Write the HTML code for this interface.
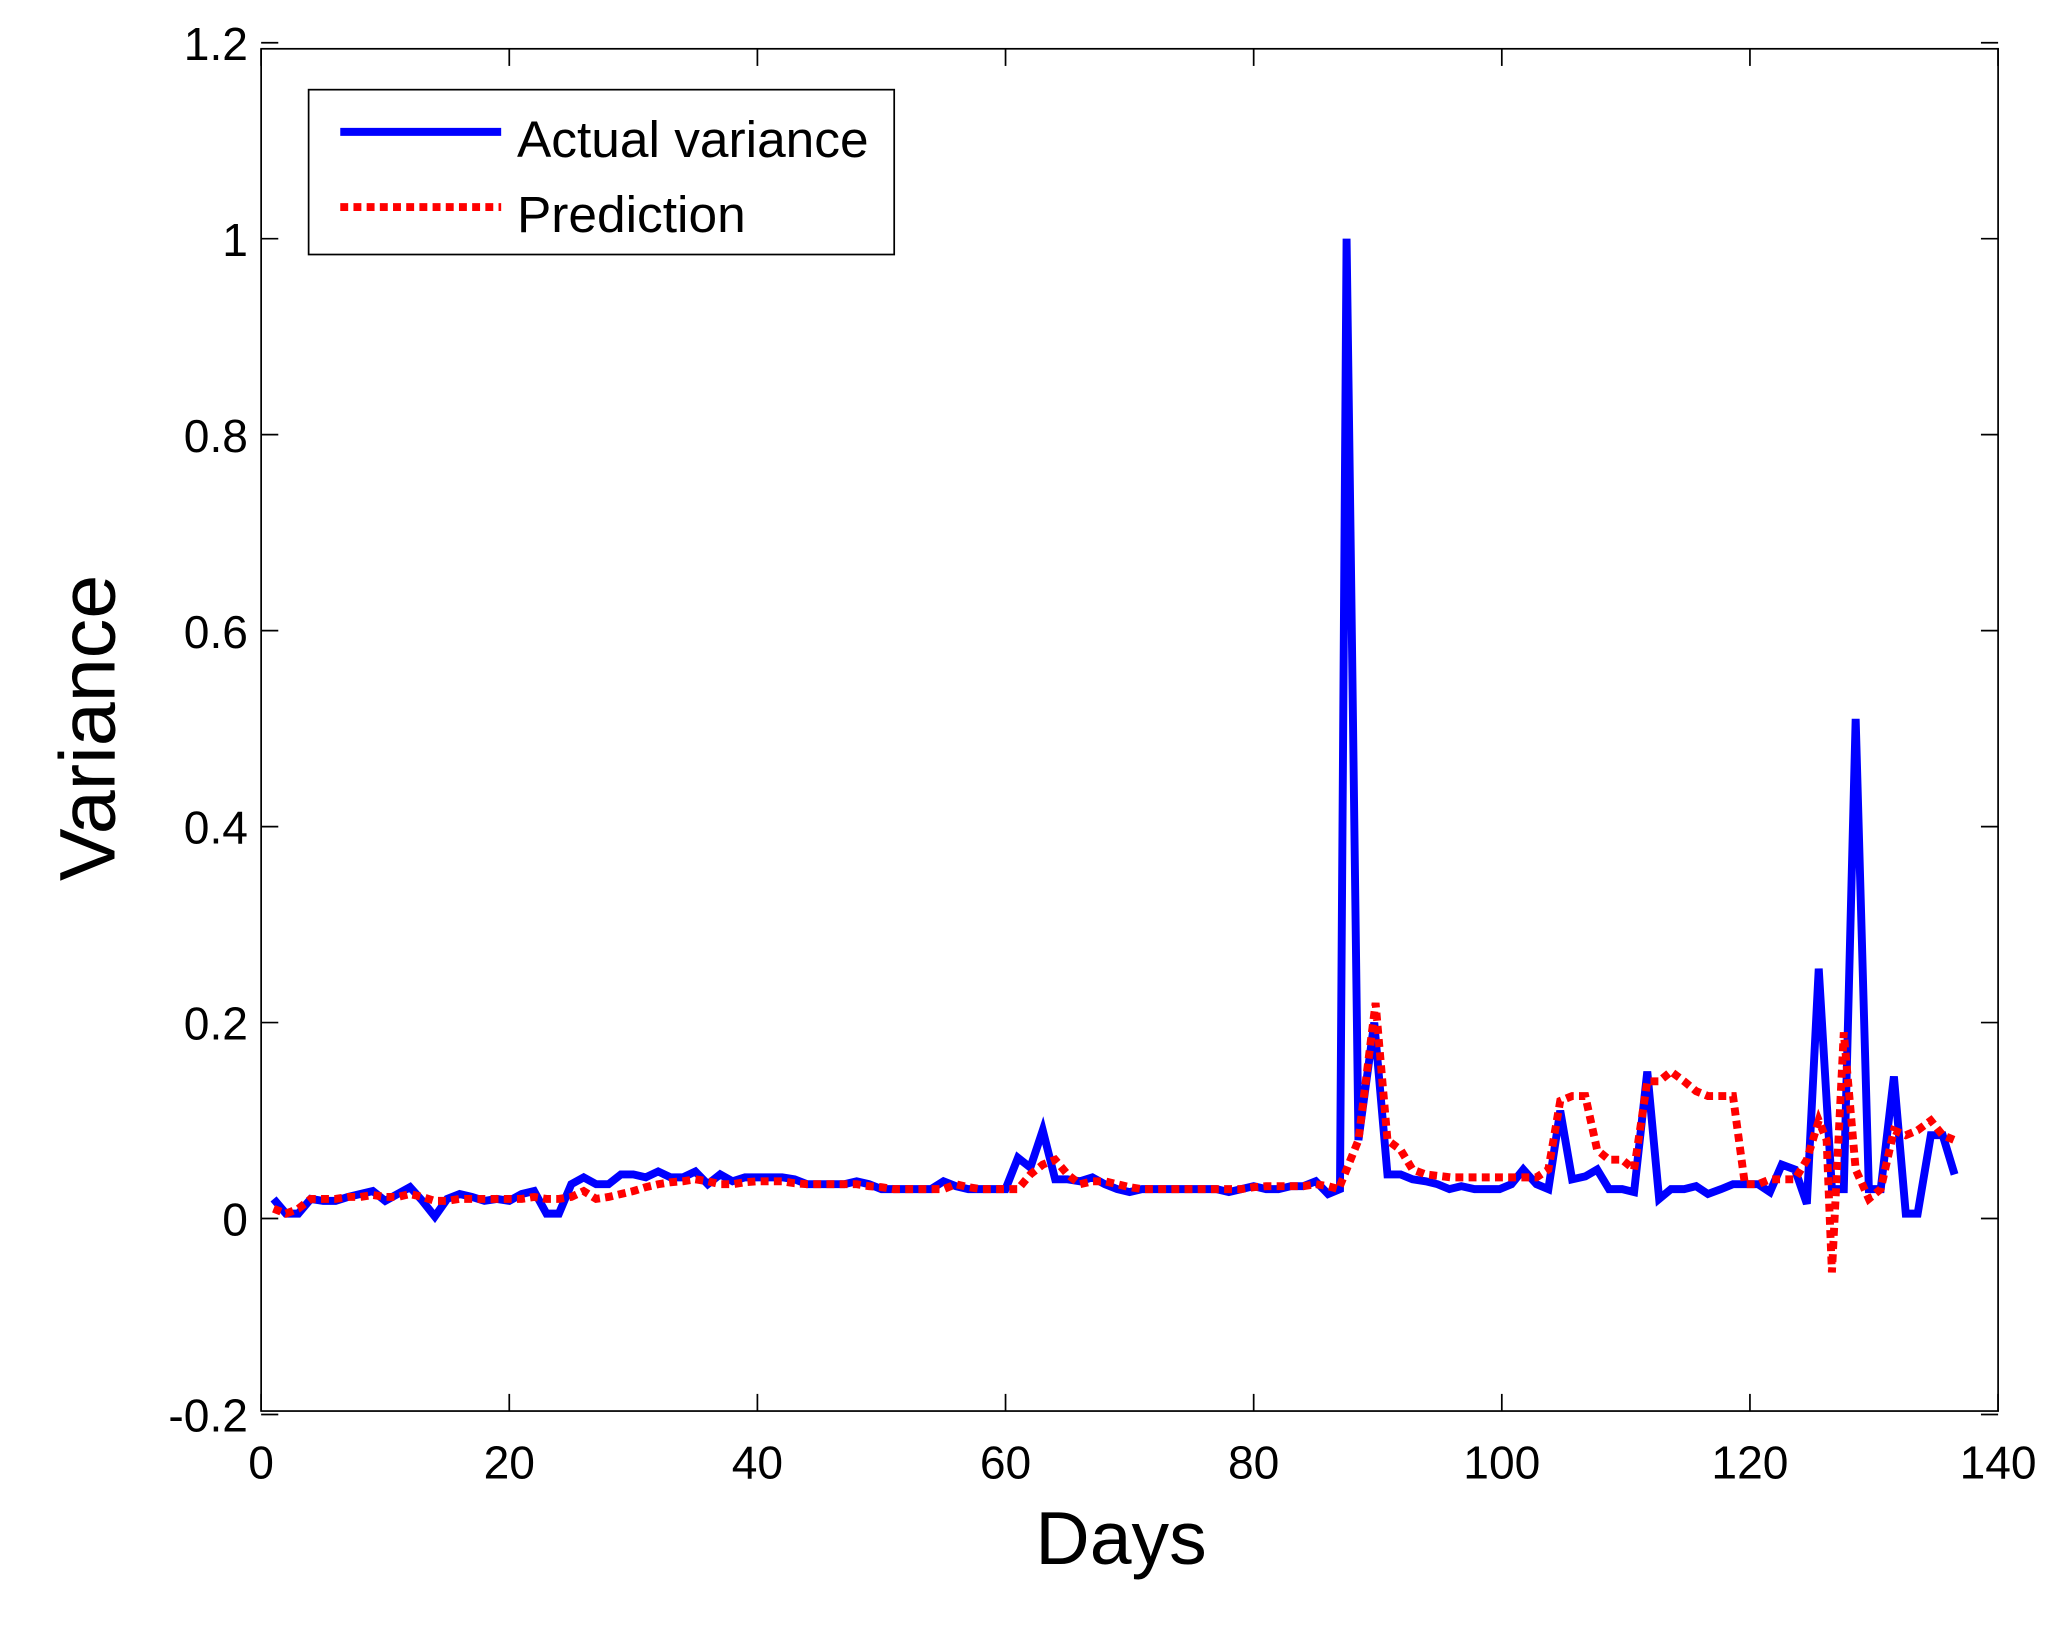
<!DOCTYPE html>
<html><head><meta charset="utf-8"><style>
html,body{margin:0;padding:0;background:#fff;}
svg{display:block;}
text{font-family:"Liberation Sans",Arial,sans-serif;fill:#000;}
</style></head><body>
<svg id="s" width="2068" height="1626" viewBox="0 0 1568 1233" preserveAspectRatio="none" xmlns="http://www.w3.org/2000/svg">
<rect x="0" y="0" width="1568" height="1233" fill="#fff"/>
<g id="ticks" stroke="#000" stroke-width="1.3"></g>
<rect x="198" y="37" width="1317" height="1033" fill="none" stroke="#000" stroke-width="1.3"/>
<g id="lbl" font-size="35"></g>
<text x="850" y="1186" font-size="57" text-anchor="middle">Days</text>
<text transform="translate(87,552) rotate(-90)" font-size="60" text-anchor="middle">Variance</text>
<polyline id="blue" fill="none" stroke="#0000ff" stroke-width="6" stroke-linejoin="miter"/>
<polyline id="red" fill="none" stroke="#ff0000" stroke-width="6" stroke-dasharray="6,4"/>
<rect x="234" y="68" width="444" height="125" fill="#fff" stroke="#000" stroke-width="1.3"/>
<line x1="258" y1="100" x2="380" y2="100" stroke="#0000ff" stroke-width="6"/>
<line x1="258" y1="157" x2="380" y2="157" stroke="#ff0000" stroke-width="6" stroke-dasharray="6,4"/>
<text x="392" y="119" font-size="39">Actual variance</text>
<text x="392" y="176" font-size="39">Prediction</text>
</svg>
<script>
var X=function(d){return 198+d*9.407;},Y=function(v){return 924-v*743;};
var NS="http://www.w3.org/2000/svg";
var tk=document.getElementById('ticks'),lb=document.getElementById('lbl');
function ln(a,b,c,d){var l=document.createElementNS(NS,'line');l.setAttribute('x1',a);l.setAttribute('y1',b);l.setAttribute('x2',c);l.setAttribute('y2',d);tk.appendChild(l);}
function tx(x,y,t,a){var e=document.createElementNS(NS,'text');e.setAttribute('x',x);e.setAttribute('y',y);e.setAttribute('text-anchor',a);e.textContent=t;lb.appendChild(e);}
for(var d=0;d<=140;d+=20){var x=X(d);ln(x,1070,x,1057);ln(x,37,x,50);tx(x,1121,String(d),'middle');}
var yl=['-0.2','0','0.2','0.4','0.6','0.8','1','1.2'];
for(var i=0;i<8;i++){var v=-0.2+i*0.2,y=Y(v);ln(198,y,211,y);ln(1515,y,1502,y);tx(188,y+13,yl[i],'end');}
var bEarly=[0.02,0.005,0.005,0.02,0.018,0.018,0.022,0.025,0.028,0.018,0.025,0.032,0.018,0.002,0.02,0.025,0.022,0.018,0.02,0.018,0.025,0.028,0.005,0.005,0.035,0.042,0.035,0.035,0.045,0.045,0.042,0.048,0.042,0.042,0.048,0.035,0.045,0.038,0.042,0.042,0.042,0.042,0.04,0.035,0.035,0.035,0.035,0.038,0.035,0.03,0.03,0.03,0.03,0.03,0.038,0.033,0.03,0.03,0.03,0.03,0.062,0.052,0.09,0.04,0.04,0.038,0.042,0.035,0.03,0.027,0.03,0.03,0.03,0.03,0.03,0.03,0.03,0.027,0.03,0.033,0.03,0.03,0.033,0.033,0.038,0.025];
var bp=[];for(var i=0;i<bEarly.length;i++)bp.push(X(i+1)+','+Y(bEarly[i]));
var bLate=[[1016,0.03],[1021,1.0],[1024,0.7],[1030,0.08],[1042,0.2],[1052,0.045],[1062,0.045],[1071,0.04],[1081,0.038],[1090,0.035],[1099,0.03],[1108,0.033],[1118,0.03],[1127,0.03],[1137,0.03],[1146,0.035],[1155,0.05],[1165,0.035],[1174,0.03],[1183,0.11],[1192,0.04],[1202,0.043],[1211,0.05],[1220,0.03],[1230,0.03],[1239,0.027],[1249,0.15],[1258,0.02],[1267,0.03],[1277,0.03],[1286,0.033],[1295,0.025],[1305,0.03],[1314,0.035],[1323,0.035],[1333,0.035],[1342,0.027],[1351,0.055],[1361,0.05],[1370,0.015],[1379,0.255],[1389,0.03],[1398,0.03],[1407,0.51],[1417,0.03],[1426,0.03],[1436,0.145],[1445,0.005],[1454,0.005],[1464,0.085],[1473,0.085],[1482,0.045]];
bLate.forEach(function(p){bp.push(p[0]+','+Y(p[1]));});
document.getElementById('blue').setAttribute('points',bp.join(' '));
var rEarly=[0.01,0.005,0.01,0.02,0.02,0.02,0.022,0.022,0.024,0.022,0.022,0.025,0.022,0.018,0.018,0.02,0.02,0.02,0.02,0.02,0.02,0.022,0.02,0.02,0.022,0.028,0.02,0.022,0.025,0.028,0.032,0.035,0.037,0.038,0.04,0.038,0.035,0.035,0.037,0.038,0.038,0.038,0.036,0.035,0.035,0.035,0.035,0.035,0.033,0.032,0.03,0.03,0.03,0.03,0.03,0.035,0.032,0.03,0.03,0.03,0.03,0.045,0.055,0.06,0.045,0.035,0.038,0.038,0.035,0.032,0.03,0.03,0.03,0.03,0.03,0.03,0.03,0.03,0.03,0.032,0.033,0.033,0.033,0.033,0.035,0.033];
var rp=[];for(var i=0;i<rEarly.length;i++)rp.push(X(i+1)+','+Y(rEarly[i]));
var rLate=[[1015,0.03],[1030,0.08],[1043,0.22],[1052,0.08],[1062,0.07],[1071,0.05],[1081,0.045],[1100,0.042],[1165,0.042],[1174,0.05],[1183,0.12],[1192,0.125],[1202,0.125],[1211,0.07],[1220,0.06],[1230,0.06],[1239,0.05],[1249,0.14],[1258,0.14],[1267,0.15],[1277,0.14],[1286,0.13],[1295,0.125],[1305,0.125],[1314,0.125],[1323,0.035],[1333,0.035],[1342,0.04],[1351,0.04],[1361,0.04],[1370,0.06],[1379,0.1],[1385,0.08],[1389,-0.055],[1398,0.19],[1407,0.05],[1417,0.02],[1426,0.03],[1436,0.09],[1445,0.085],[1454,0.09],[1464,0.1],[1473,0.085],[1482,0.08]];
rLate.forEach(function(p){rp.push(p[0]+','+Y(p[1]));});
document.getElementById('red').setAttribute('points',rp.join(' '));
</script>
</body></html>
